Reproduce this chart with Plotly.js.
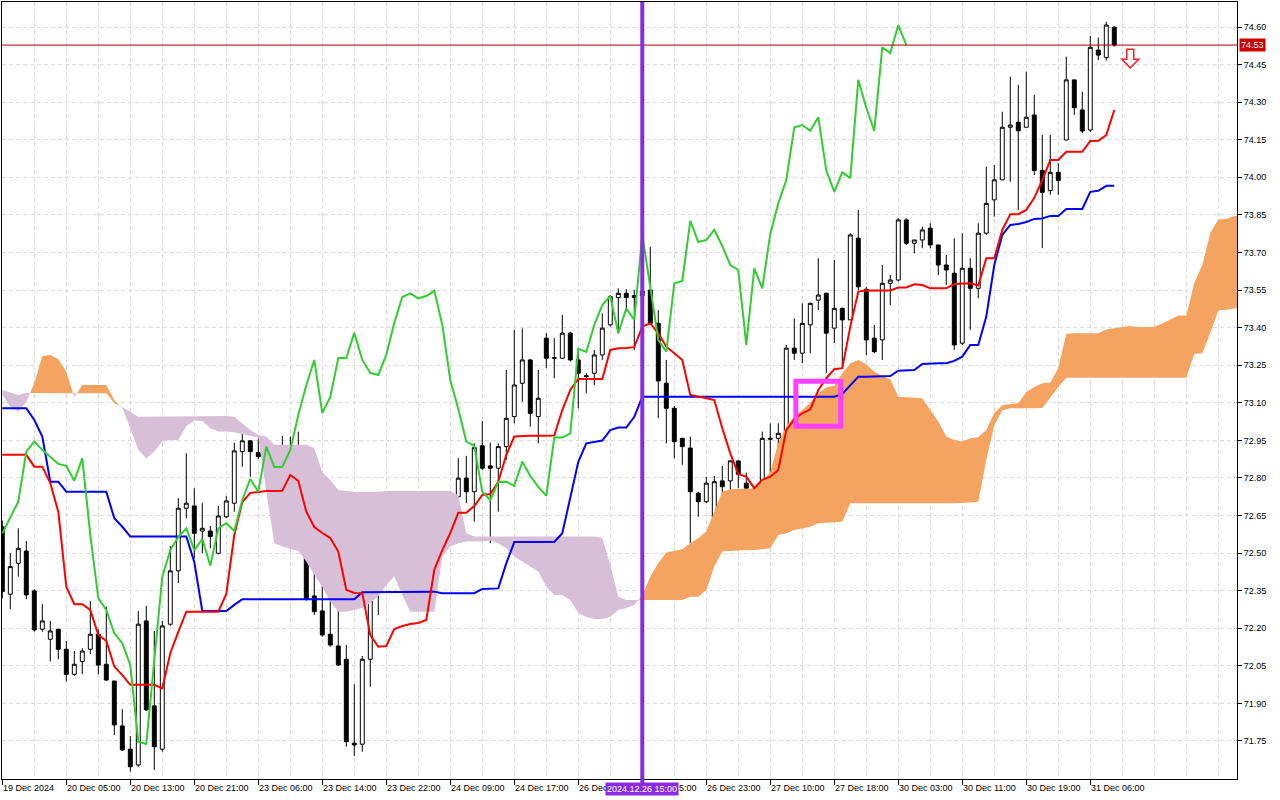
<!DOCTYPE html>
<html>
<head>
<meta charset="utf-8">
<script src="https://cdn.plot.ly/plotly-3.0.1.min.js"></script>
<style>html,body{margin:0;padding:0;background:#fff;}#chart{width:1280px;height:800px;}</style>
</head>
<body>
<div id="chart"></div>
<script>
// ---- Candles (H1 bars, index 0..139) ----
const open = [72.605,72.336,72.459,72.508,72.349,72.196,72.156,72.196,72.116,72.016,
72.067,72.116,72.176,72.056,71.989,71.810,71.717,71.654,72.229,71.890,
71.717,72.216,72.429,72.679,72.688,72.588,72.588,72.499,72.645,72.699,
72.905,72.948,72.901,72.885,72.845,72.858,72.785,72.868,72.568,72.329,
72.269,72.176,72.129,72.076,71.741,71.737,72.076,72.399,72.506,72.559,
72.579,72.519,72.568,72.459,72.608,72.619,72.586,72.725,72.799,72.745,
72.928,72.848,72.839,72.925,73.045,73.178,73.271,73.045,73.358,73.280,
73.278,73.378,73.271,73.208,73.218,73.291,73.411,73.520,73.537,73.520,
73.528,73.550,73.417,73.178,73.078,72.958,72.919,72.739,72.705,72.639,
72.788,72.788,72.868,72.779,72.745,72.725,72.958,72.958,72.978,73.318,
73.298,73.411,73.510,73.537,73.398,73.477,73.431,73.757,73.553,73.358,
73.351,73.577,73.590,73.830,73.737,73.750,73.797,73.730,73.650,73.617,
73.338,73.637,73.557,73.777,73.910,73.990,74.200,74.220,74.200,74.249,
74.027,73.947,74.020,74.149,74.389,74.269,74.189,74.508,74.478,74.599];
const high = [72.63,72.499,72.599,72.548,72.356,72.296,72.229,72.196,72.149,72.109,
72.120,72.309,72.196,72.286,71.99,71.877,71.770,72.269,72.289,72.189,
72.229,72.528,72.719,72.898,72.759,72.699,72.608,72.688,72.728,72.941,
72.998,72.95,72.958,72.925,72.918,72.968,72.965,72.985,72.632,72.499,
72.499,72.346,72.439,72.133,71.976,72.089,72.41,72.559,72.579,72.708,
72.659,72.739,72.57,72.625,72.685,72.665,72.748,72.879,72.888,72.938,
73.027,72.941,72.938,73.231,73.391,73.397,73.275,73.231,73.378,73.358,
73.451,73.384,73.318,73.218,73.311,73.457,73.530,73.557,73.553,73.551,
73.60,73.723,73.470,73.271,73.087,72.96,72.965,72.745,72.805,72.808,
72.848,72.87,72.87,72.821,72.759,72.985,73.018,73.018,73.331,73.437,
73.497,73.50,73.677,73.54,73.670,73.48,73.777,73.870,73.563,73.411,
73.650,73.610,73.837,73.837,73.75,73.803,73.817,73.73,73.690,73.757,
73.777,73.677,73.817,74.043,74.049,74.262,74.402,74.369,74.422,74.329,
74.169,74.169,74.056,74.482,74.39,74.342,74.565,74.558,74.621,74.604];
const low = [72.32,72.276,72.406,72.316,72.186,72.186,72.067,72.076,71.987,72.01,
72.016,72.096,72.016,71.99,71.774,71.71,71.627,71.647,71.87,71.634,
71.707,72.21,72.380,72.639,72.479,72.499,72.519,72.495,72.639,72.665,
72.845,72.805,72.875,72.819,72.785,72.765,72.625,72.555,72.31,72.253,
72.166,72.126,72.05,71.727,71.690,71.707,71.967,72.253,72.399,72.546,
72.499,72.506,72.439,72.439,72.592,72.579,72.579,72.692,72.699,72.625,
72.832,72.539,72.665,72.872,73.018,73.104,73.005,72.938,73.238,73.198,
73.275,73.264,73.078,73.138,73.171,73.271,73.404,73.391,73.464,73.311,
73.48,73.41,73.038,72.938,72.878,72.852,72.539,72.645,72.699,72.586,
72.699,72.725,72.759,72.755,72.639,72.719,72.792,72.785,72.97,73.271,
73.258,73.298,73.470,73.218,73.338,73.238,73.43,73.550,73.291,73.298,
73.271,73.490,73.584,73.730,73.697,73.717,73.717,73.610,73.570,73.311,
73.331,73.391,73.517,73.77,73.843,73.99,73.983,73.870,74.20,74.009,
73.717,73.930,73.930,74.149,74.249,74.176,74.182,74.468,74.466,74.522];
const close = [72.346,72.446,72.519,72.333,72.193,72.229,72.189,72.116,72.016,72.056,
72.109,72.176,72.053,71.993,71.814,71.714,71.647,72.216,71.874,71.727,
72.209,72.429,72.679,72.699,72.579,72.599,72.566,72.648,72.708,72.908,
72.948,72.905,72.885,72.858,72.84,72.785,72.878,72.559,72.316,72.266,
72.173,72.133,72.053,71.747,71.734,72.076,72.409,72.508,72.559,72.599,
72.506,72.559,72.446,72.599,72.619,72.586,72.725,72.799,72.745,72.921,
72.839,72.839,72.925,73.038,73.171,73.271,73.058,73.118,73.278,73.278,
73.378,73.271,73.218,73.205,73.291,73.398,73.524,73.537,73.520,73.528,
73.546,73.417,73.187,73.078,72.945,72.925,72.745,72.705,72.779,72.785,
72.765,72.868,72.815,72.759,72.725,72.958,72.955,72.978,73.318,73.298,
73.417,73.497,73.530,73.378,73.477,73.431,73.770,73.563,73.351,73.304,
73.577,73.590,73.830,73.737,73.750,73.790,73.730,73.650,73.630,73.331,
73.637,73.557,73.777,73.896,73.990,74.200,74.209,74.186,74.240,74.027,
73.940,74.020,73.987,74.389,74.278,74.185,74.519,74.488,74.608,74.528];

// ---- Ichimoku lines ----
const tenkan = [72.892,72.892,72.892,72.892,72.845,72.845,72.779,72.665,72.366,72.296,
72.296,72.273,72.173,72.149,72.047,72.013,71.974,71.974,71.974,71.974,
71.960,72.100,72.185,72.266,72.266,72.266,72.266,72.266,72.337,72.572,
72.704,72.740,72.744,72.748,72.748,72.749,72.812,72.788,72.665,72.604,
72.580,72.560,72.506,72.353,72.341,72.340,72.173,72.126,72.129,72.197,
72.209,72.217,72.221,72.233,72.433,72.512,72.580,72.661,72.661,72.688,
72.732,72.736,72.785,72.892,72.965,72.968,72.968,72.968,72.968,72.969,
73.071,73.151,73.195,73.195,73.195,73.195,73.311,73.318,73.319,73.322,
73.404,73.417,73.377,73.324,73.298,73.271,73.131,73.123,73.118,73.111,
72.998,72.898,72.815,72.805,72.759,72.792,72.805,72.832,72.991,73.034,
73.058,73.074,73.151,73.198,73.234,73.238,73.404,73.544,73.548,73.548,
73.548,73.548,73.560,73.560,73.573,73.570,73.557,73.557,73.557,73.574,
73.577,73.577,73.568,73.677,73.677,73.790,73.853,73.853,73.870,73.918,
73.989,74.069,74.069,74.102,74.102,74.102,74.145,74.146,74.169,74.269];
const kijun = [73.078,73.078,73.078,73.078,73.031,72.965,72.785,72.785,72.745,72.745,
72.745,72.745,72.745,72.745,72.639,72.605,72.566,72.566,72.566,72.566,
72.566,72.566,72.566,72.566,72.464,72.269,72.269,72.269,72.269,72.293,
72.316,72.316,72.316,72.316,72.316,72.316,72.316,72.316,72.316,72.316,
72.316,72.316,72.316,72.316,72.316,72.344,72.344,72.344,72.344,72.344,
72.344,72.344,72.344,72.344,72.346,72.340,72.340,72.340,72.340,72.340,
72.357,72.359,72.359,72.459,72.544,72.544,72.544,72.544,72.544,72.544,
72.579,72.724,72.864,72.938,72.944,72.949,72.991,73.001,73.001,73.044,
73.124,73.124,73.124,73.124,73.124,73.124,73.124,73.124,73.124,73.124,
73.124,73.124,73.124,73.124,73.124,73.124,73.124,73.124,73.124,73.124,
73.124,73.124,73.124,73.124,73.124,73.135,73.171,73.204,73.204,73.204,
73.204,73.207,73.228,73.231,73.231,73.255,73.258,73.258,73.258,73.267,
73.284,73.331,73.331,73.444,73.650,73.770,73.810,73.814,73.822,73.834,
73.836,73.846,73.846,73.874,73.874,73.874,73.942,73.946,73.966,73.966];
const chikou = [72.579,72.645,72.705,72.905,72.945,72.912,72.885,72.856,72.848,72.789,
72.878,72.572,72.320,72.273,72.180,72.140,72.053,71.747,71.738,72.076,
72.406,72.512,72.564,72.599,72.512,72.556,72.450,72.599,72.619,72.589,
72.712,72.796,72.745,72.925,72.844,72.844,72.912,73.051,73.171,73.271,
73.059,73.123,73.279,73.279,73.379,73.271,73.219,73.211,73.291,73.419,
73.522,73.537,73.517,73.526,73.548,73.411,73.191,73.075,72.945,72.928,
72.745,72.712,72.784,72.785,72.768,72.865,72.808,72.764,72.728,72.961,
72.961,72.978,73.315,73.303,73.411,73.490,73.526,73.377,73.477,73.431,
73.770,73.562,73.351,73.304,73.577,73.586,73.826,73.742,73.750,73.790,
73.726,73.650,73.630,73.331,73.637,73.557,73.774,73.896,73.989,74.200,
74.209,74.186,74.240,74.027,73.942,74.020,73.997,74.389,74.278,74.185,
74.519,74.496,74.608,74.528];
const spanA = [73.131,73.084,73.064,73.104,73.178,73.287,73.291,73.274,73.224,73.122,
73.171,73.171,73.171,73.171,73.111,73.078,72.998,72.912,72.878,72.905,
72.945,72.951,72.951,73.007,73.029,73.027,72.998,72.985,72.985,72.982,
72.974,72.969,72.961,72.745,72.539,72.526,72.516,72.508,72.466,72.413,
72.366,72.306,72.266,72.266,72.273,72.281,72.301,72.329,72.373,72.406,
72.333,72.266,72.266,72.266,72.266,72.486,72.526,72.539,72.546,72.546,
72.546,72.550,72.539,72.519,72.486,72.466,72.446,72.426,72.366,72.333,
72.333,72.313,72.261,72.245,72.237,72.237,72.245,72.273,72.281,72.293,
72.330,72.406,72.459,72.502,72.510,72.515,72.539,72.559,72.586,72.665,
72.745,72.755,72.755,72.757,72.759,72.785,72.824,72.938,73.005,73.047,
73.071,73.100,73.138,73.162,73.168,73.218,73.258,73.271,73.254,73.224,
73.207,73.194,73.124,73.122,73.120,73.118,73.071,73.025,72.965,72.951,
72.945,72.958,72.962,72.991,73.059,73.090,73.095,73.098,73.143,73.163,
73.178,73.180,73.239,73.375,73.378,73.378,73.378,73.378,73.393,73.399,
73.403,73.407,73.403,73.403,73.404,73.416,73.431,73.448,73.447,73.578,
73.650,73.778,73.832,73.834,73.846,73.846];
const spanB = [73.151,73.140,73.131,73.140,73.138,73.138,73.138,73.138,73.138,73.138,
73.138,73.138,73.138,73.138,73.098,73.084,73.064,73.044,73.044,73.044,
73.044,73.044,73.044,73.044,73.047,73.047,73.047,73.047,73.047,73.044,
73.018,72.991,72.971,72.965,72.932,72.932,72.932,72.932,72.932,72.919,
72.823,72.792,72.752,72.748,72.745,72.745,72.745,72.745,72.748,72.748,
72.748,72.748,72.748,72.748,72.748,72.748,72.748,72.732,72.579,72.566,
72.566,72.566,72.566,72.566,72.566,72.566,72.566,72.566,72.566,72.566,
72.566,72.566,72.566,72.566,72.566,72.560,72.453,72.325,72.313,72.313,
72.313,72.313,72.313,72.313,72.313,72.313,72.326,72.326,72.353,72.446,
72.506,72.508,72.510,72.512,72.512,72.516,72.519,72.572,72.579,72.592,
72.599,72.605,72.619,72.621,72.623,72.625,72.699,72.699,72.699,72.699,
72.699,72.699,72.699,72.699,72.699,72.699,72.699,72.699,72.699,72.699,
72.699,72.702,72.705,72.872,73.011,73.070,73.078,73.078,73.078,73.078,
73.079,73.119,73.163,73.200,73.200,73.200,73.200,73.200,73.200,73.200,
73.200,73.200,73.200,73.200,73.200,73.200,73.200,73.200,73.200,73.295,
73.298,73.379,73.468,73.471,73.476,73.476];

// ---- Axis labels & markers ----
const tickBars = [0,8,16,24,32,40,48,56,64,72,80,88,96,104,112,120,128,136];
const tickLabels = ["19 Dec 2024","20 Dec 05:00","20 Dec 13:00","20 Dec 21:00","23 Dec 06:00","23 Dec 14:00","23 Dec 22:00","24 Dec 09:00","24 Dec 17:00","26 Dec 07:00","26 Dec 15:00","26 Dec 23:00","27 Dec 10:00","27 Dec 18:00","30 Dec 03:00","30 Dec 11:00","30 Dec 19:00","31 Dec 06:00"];
const yTicks = [71.75,71.90,72.05,72.20,72.35,72.50,72.65,72.80,72.95,73.10,73.25,73.40,73.55,73.70,73.85,74.00,74.15,74.30,74.45,74.60];
const cursorBar = 80;
const cursorLabel = "2024.12.26 15:00";
const signalBar = 141;
const signalPrice = 74.475;
const highlight = {x0: 99.2, x1: 104.8, y0: 73.006, y1: 73.186};

// ---- build ----
const idx = arr => arr.map((_, i) => i);
const C_UP = '#F4A460', C_DN = '#D8BFD8';

function cloudTraces(a, b) {
  const xs = idx(a);
  const polys = [];
  let cur = null;
  for (let i = 0; i < xs.length; i++) {
    const bull = a[i] >= b[i];
    if (cur && bull !== cur.bull) {
      const d0 = a[i-1] - b[i-1], d1 = a[i] - b[i];
      const t = d0 / (d0 - d1);
      const xc = xs[i-1] + t * (xs[i] - xs[i-1]);
      const yc = a[i-1] + t * (a[i] - a[i-1]);
      cur.top.push([xc, yc]); cur.bot.push([xc, yc]);
      polys.push(cur);
      cur = {bull, top: [[xc, yc]], bot: [[xc, yc]]};
    }
    if (!cur) cur = {bull, top: [], bot: []};
    cur.top.push([xs[i], a[i]]); cur.bot.push([xs[i], b[i]]);
  }
  polys.push(cur);
  return polys.map(p => {
    const pts = p.top.concat(p.bot.slice().reverse());
    return {
      type: 'scatter', mode: 'lines', x: pts.map(q => q[0]), y: pts.map(q => q[1]),
      fill: 'toself', fillcolor: p.bull ? C_UP : C_DN,
      line: {width: 0, color: p.bull ? C_UP : C_DN}, hoverinfo: 'skip', showlegend: false
    };
  });
}

const traces = [];
cloudTraces(spanA, spanB).forEach(t => traces.push(t));
traces.push({
  type: 'candlestick', x: idx(open), open, high, low, close,
  increasing: {line: {color: '#000', width: 1}, fillcolor: '#ffffff'},
  decreasing: {line: {color: '#000', width: 1}, fillcolor: '#000000'},
  whiskerwidth: 0, hoverinfo: 'skip', showlegend: false
});
traces.push({type: 'scatter', mode: 'lines', x: idx(kijun), y: kijun, line: {color: '#0000FF', width: 2}, hoverinfo: 'skip'});
traces.push({type: 'scatter', mode: 'lines', x: idx(tenkan), y: tenkan, line: {color: '#FF0000', width: 2}, hoverinfo: 'skip'});
traces.push({type: 'scatter', mode: 'lines', x: idx(chikou), y: chikou, line: {color: '#32CD32', width: 2}, hoverinfo: 'skip'});

const lastClose = close[close.length - 1];
const GRID = '#dcdcdc';
const annotations = tickBars.map((b, i) => ({
  xref: 'x', yref: 'paper', x: b, y: 0, xanchor: 'left', yanchor: 'top', yshift: -2, xshift: -1,
  text: tickLabels[i], showarrow: false, font: {size: 9, color: '#000'}
}));
annotations.push({xref: 'x', yref: 'paper', x: cursorBar, y: 0, xanchor: 'center', yanchor: 'top', yshift: -3,
  text: cursorLabel, showarrow: false, bgcolor: '#8A2BE2', borderpad: 1, font: {size: 9, color: '#fff'}});
annotations.push({xref: 'paper', yref: 'y', x: 1, y: lastClose, xanchor: 'left', yanchor: 'middle', xshift: 2,
  text: lastClose.toFixed(2), showarrow: false, bgcolor: '#CC0000', borderpad: 1, font: {size: 9, color: '#fff'}});

// hollow down arrow (sell signal), sized in pixels around its anchor point
const arrowPath = 'M -3.5 9 L 3.5 9 L 3.5 -1 L 8.5 -1 L 0 -9.5 L -8.5 -1 L -3.5 -1 Z';

const layout = {
  width: 1280, height: 800,
  margin: {l: 2, r: 43, t: 2, b: 21},
  paper_bgcolor: '#fff', plot_bgcolor: '#fff',
  showlegend: false, hovermode: false,
  font: {family: 'Liberation Sans, Arial, sans-serif', size: 9, color: '#000'},
  xaxis: {
    type: 'linear', range: [-0.0375, 154.34], showticklabels: false,
    tickmode: 'array', tickvals: tickBars,
    ticks: 'outside', ticklen: 5, tickcolor: '#000',
    showgrid: true, gridcolor: GRID, griddash: '4px,3px', gridwidth: 1,
    minor: {tick0: 0, dtick: 4, showgrid: true, gridcolor: GRID, griddash: '4px,3px', ticks: ''},
    showline: true, linecolor: '#000', linewidth: 1, mirror: true, zeroline: false,
    rangeslider: {visible: false}, fixedrange: true
  },
  yaxis: {
    side: 'right', range: [71.598, 74.700], tickvals: yTicks, ticktext: yTicks.map(v => v.toFixed(2)),
    ticks: 'outside', ticklen: 4, tickcolor: '#000',
    showgrid: true, gridcolor: GRID, griddash: '4px,3px', gridwidth: 1,
    showline: true, linecolor: '#000', linewidth: 1, mirror: true, zeroline: false, fixedrange: true
  },
  shapes: [
    {type: 'line', xref: 'paper', x0: 0, x1: 1, yref: 'y', y0: lastClose, y1: lastClose, line: {color: '#A80000', width: 1}, layer: 'above'},
    {type: 'line', xref: 'x', x0: cursorBar, x1: cursorBar, yref: 'paper', y0: -0.008, y1: 1, line: {color: '#8A2BE2', width: 4}, layer: 'above'},
    {type: 'rect', xref: 'x', yref: 'y', x0: highlight.x0, x1: highlight.x1, y0: highlight.y0, y1: highlight.y1,
      line: {color: '#FF40FF', width: 5}, fillcolor: 'rgba(0,0,0,0)', layer: 'above'},
    {type: 'path', xref: 'x', yref: 'y', xsizemode: 'pixel', ysizemode: 'pixel',
      xanchor: signalBar, yanchor: signalPrice, path: arrowPath,
      line: {color: '#FF2020', width: 1.5}, fillcolor: '#ffffff', layer: 'above'}
  ],
  annotations
};

Plotly.newPlot('chart', traces, layout, {staticPlot: true, displayModeBar: false});
</script>
</body>
</html>
